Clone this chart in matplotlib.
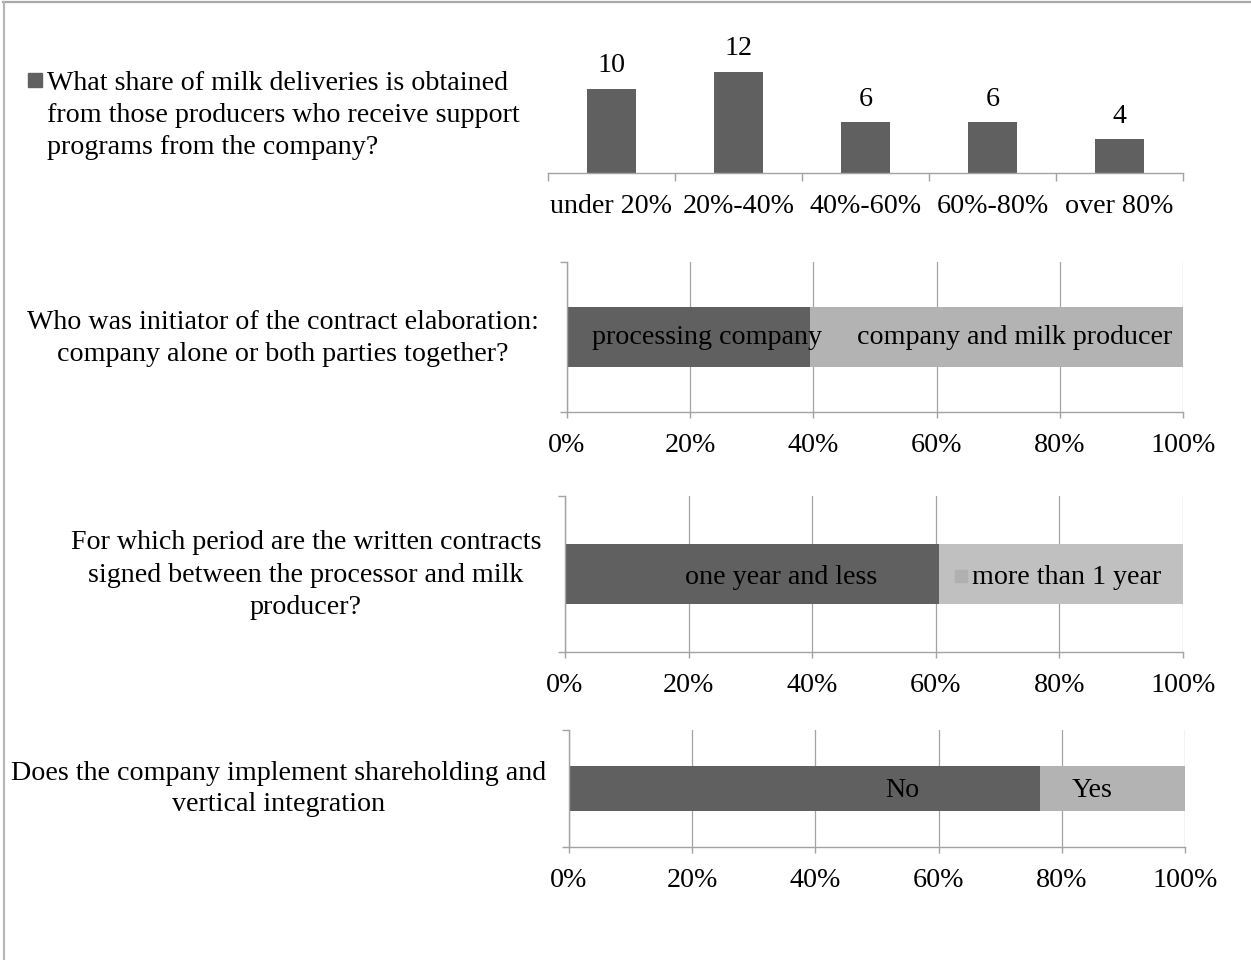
import matplotlib
matplotlib.use("Agg")
import matplotlib.pyplot as plt
from matplotlib.patches import Rectangle
from matplotlib.lines import Line2D

plt.rcParams['font.family'] = ['Liberation Serif', 'DejaVu Serif']

# ---------------- data ----------------
q1_lines = ["What share of milk deliveries is obtained",
            "from those producers who receive support",
            "programs from the company?"]
q1_categories = ["under 20%", "20%-40%", "40%-60%", "60%-80%", "over 80%"]
q1_counts = [10, 12, 6, 6, 4]

q2_lines = ["Who was initiator of the contract elaboration:",
            "company alone or both parties together?"]
q2_labels = ["processing company", "company and milk producer"]
q2_shares = [39.5, 60.5]

q3_lines = ["For which period are the written contracts",
            "signed between the processor and milk",
            "producer?"]
q3_labels = ["one year and less", "more than 1 year"]
q3_shares = [60.5, 39.5]

q4_lines = ["Does the company implement shareholding and",
            "vertical integration"]
q4_labels = ["No", "Yes"]
q4_shares = [76.4, 23.6]

pct_ticks = [0, 20, 40, 60, 80, 100]
pct_tick_labels = ["0%", "20%", "40%", "60%", "80%", "100%"]

# ---------------- layout / style ----------------
W, H, DPI = 1251, 960, 100
FS = 20.2
DARK = "#606060"
GRAY = "#a3a3a3"

fig = plt.figure(figsize=(W / DPI, H / DPI), dpi=DPI)
fig.patch.set_facecolor("white")


def rect(x0, y0, x1, y1):
    return [x0 / W, 1 - y1 / H, (x1 - x0) / W, (y1 - y0) / H]


def ftext(x, y, s, **kw):
    fig.text(x / W, 1 - y / H, s, fontsize=FS, color="black", **kw)


# frame of the picture (top and left edge)
fig.add_artist(Line2D([3 / W, 1], [1 - 1.5 / H, 1 - 1.5 / H], color="#a8a8a8", lw=1.6))
fig.add_artist(Line2D([3.5 / W, 3.5 / W], [0, 1 - 1.5 / H], color="#b8b8b8", lw=1.6))

# ---------------- panel 1: column chart ----------------
ax1 = fig.add_axes(rect(548, 55, 1183, 173))
xpos = list(range(len(q1_categories)))
bars = ax1.bar(xpos, q1_counts, width=0.39, color=DARK, zorder=2)
ax1.bar_label(bars, labels=[str(v) for v in q1_counts], padding=7.5, fontsize=FS)
ax1.set_xlim(-0.5, len(q1_categories) - 0.5)
ax1.set_ylim(0, 14)
for s in ["top", "right", "left"]:
    ax1.spines[s].set_visible(False)
ax1.spines["bottom"].set_color(GRAY)
ax1.spines["bottom"].set_linewidth(1.0)
ax1.set_yticks([])
ax1.set_xticks(xpos)
ax1.set_xticklabels(q1_categories, fontsize=FS)
ax1.set_xticks([i - 0.5 for i in range(len(q1_categories) + 1)], minor=True)
ax1.tick_params(axis="x", which="major", length=0, pad=15)
ax1.tick_params(axis="x", which="minor", length=6, color=GRAY, width=1.0, direction="out")
ax1.patch.set_alpha(0)

# legend-like question text
fig.add_artist(Rectangle((28 / W, 1 - 87 / H), 14 / W, 14 / H,
                         transform=fig.transFigure, color=DARK))
for i, ln in enumerate(q1_lines):
    ftext(47, 83 + 32 * i, ln, ha="left", va="center")


# ---------------- stacked 100% bars ----------------
def stacked(px, shares, colors, labels, label_x, label_y, bar_h, lines, tx, ty0, lsp=32):
    ax = fig.add_axes(rect(*px))
    left = 0
    for s, c in zip(shares, colors):
        ax.barh(0.5, s, height=bar_h, left=left, color=c, zorder=2)
        left += s
    ax.set_xlim(0, 100)
    ax.set_ylim(0, 1)
    ax.set_xticks(pct_ticks)
    ax.set_xticklabels(pct_tick_labels, fontsize=FS)
    ax.xaxis.grid(True, color=GRAY, lw=0.9, zorder=0)
    ax.set_axisbelow(True)
    ax.set_yticks([0, 1])
    ax.set_yticklabels([])
    for s in ["top", "right"]:
        ax.spines[s].set_visible(False)
    for s in ["left", "bottom"]:
        ax.spines[s].set_color(GRAY)
        ax.spines[s].set_linewidth(1.0)
    ax.tick_params(axis="x", length=4, color=GRAY, width=1.0, pad=11)
    ax.tick_params(axis="y", length=5, color=GRAY, width=1.0)
    for lab, x in zip(labels, label_x):
        ax.text(x, label_y, lab, fontsize=FS, ha="center", va="center", zorder=3)
    for i, ln in enumerate(lines):
        ftext(tx, ty0 + lsp * i, ln, ha="center", va="center")
    return ax


stacked((567, 262, 1183, 412), q2_shares, [DARK, "#b3b3b3"], q2_labels,
        [22.7, 72.7], 0.5, 0.4, q2_lines, 283, 322.5)

ax3 = stacked((565, 496, 1183, 652), q3_shares, [DARK, "#c0c0c0"], q3_labels,
              [35.0, 81.2], 0.48, 0.39, q3_lines, 306, 542.5, 32.5)
ax3.plot([64.1], [0.49], marker="s", ms=9, color="#b0b0b0", zorder=3, ls="none")

stacked((569, 730, 1185, 847), q4_shares, [DARK, "#b3b3b3"], q4_labels,
        [54.1, 84.9], 0.485, 0.385, q4_lines, 279, 773, 31.5)

fig.savefig("out.png", dpi=DPI, facecolor="white")
